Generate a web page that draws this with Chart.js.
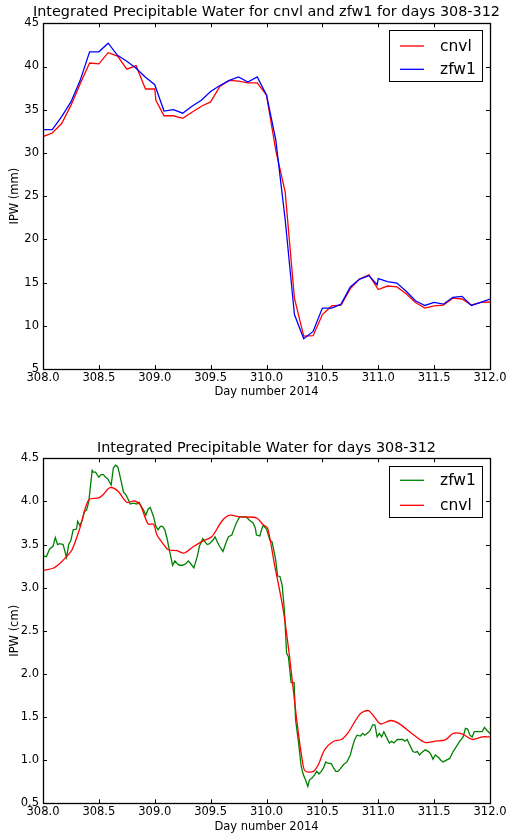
<!DOCTYPE html>
<html>
<head>
<meta charset="utf-8">
<script src="https://cdn.jsdelivr.net/npm/chart.js@4.4.1/dist/chart.umd.min.js"></script>
<style>
body { margin: 0; background: #fff; }
#wrap { position: relative; width: 508px; height: 836px; }
canvas { position: absolute; left: 0; }
</style>
</head>
<body>
<div id="wrap">
<canvas id="chartTop" width="508" height="418" style="top:0"></canvas>
<canvas id="chartBottom" width="508" height="418" style="top:418px"></canvas>
</div>
<script>
// ---- data ----
var dayTicks = [308.0, 308.5, 309.0, 309.5, 310.0, 310.5, 311.0, 311.5, 312.0];
var mmTicks = [5, 10, 15, 20, 25, 30, 35, 40, 45];
var cmTicks = [0.5, 1.0, 1.5, 2.0, 2.5, 3.0, 3.5, 4.0, 4.5];

// top plot, IPW in mm
var cnvlDays = [308.0, 308.083, 308.167, 308.25, 308.333, 308.417, 308.5, 308.583, 308.667, 308.75, 308.833, 308.917, 309.0, 309.01,
    309.083, 309.167, 309.25, 309.333, 309.417, 309.5, 309.583, 309.667, 309.75, 309.833, 309.917, 310.0, 310.083, 310.167,
    310.25, 310.333, 310.417, 310.5, 310.583, 310.667, 310.75, 310.833, 310.917, 311.0, 311.083, 311.167, 311.25, 311.333,
    311.417, 311.5, 311.583, 311.667, 311.75, 311.833, 311.917, 312.0];
var cnvlMm = [31.9, 32.3, 33.4, 35.5, 38.0, 40.4, 40.3, 41.6, 41.2, 39.7, 40.1, 37.4, 37.4, 36.1,
    34.3, 34.3, 34.0, 34.7, 35.4, 35.9, 37.7, 38.4, 38.3, 38.1, 38.1, 36.7, 30.3, 25.5,
    13.2, 8.8, 8.85, 11.3, 12.3, 12.4, 14.3, 15.4, 15.9, 14.2, 14.6, 14.5, 13.7, 12.7,
    12.05, 12.3, 12.4, 13.2, 13.1, 12.4, 12.7, 12.75];

var zfwDays = [308.0, 308.083, 308.167, 308.25, 308.333, 308.417, 308.5, 308.583, 308.667, 308.75, 308.833, 308.917, 309.0,
    309.083, 309.167, 309.25, 309.333, 309.417, 309.5, 309.583, 309.667, 309.75, 309.833, 309.917, 310.0, 310.083, 310.167,
    310.25, 310.333, 310.417, 310.5, 310.583, 310.667, 310.75, 310.833, 310.917, 310.99, 311.0, 311.083, 311.167, 311.25,
    311.333, 311.417, 311.5, 311.583, 311.667, 311.75, 311.833, 311.917, 312.0];
var zfwMm = [32.7, 32.7, 34.2, 35.9, 38.4, 41.7, 41.7, 42.7, 41.3, 40.6, 39.8, 38.75, 37.9,
    34.85, 35.0, 34.6, 35.4, 36.1, 37.1, 37.8, 38.4, 38.8, 38.2, 38.8, 36.7, 31.5, 22.3,
    11.3, 8.5, 9.35, 12.05, 12.05, 12.5, 14.5, 15.4, 15.8, 14.75, 15.45, 15.1, 14.95, 14.0,
    12.9, 12.35, 12.7, 12.5, 13.3, 13.4, 12.35, 12.7, 13.1];

// bottom plot, IPW in cm
var cnvlCmDays = [308.0, 308.09, 308.15, 308.21, 308.26, 308.33, 308.41, 308.5, 308.54, 308.6, 308.67, 308.75, 308.82, 308.87,
    308.94, 308.99, 309.02, 309.08, 309.12, 309.2, 309.26, 309.35, 309.43, 309.51, 309.6, 309.67, 309.76, 309.91, 309.97,
    310.01, 310.07, 310.15, 310.21, 310.27, 310.32, 310.345, 310.42, 310.465, 310.52, 310.6, 310.67, 310.73, 310.84,
    310.91, 310.96, 311.02, 311.11, 311.18, 311.3, 311.42, 311.51, 311.6, 311.67, 311.75, 311.84, 311.93, 312.0];
var cnvlCm = [3.20, 3.225, 3.28, 3.36, 3.44, 3.69, 4.02, 4.04, 4.08, 4.16, 4.12, 3.99, 4.005, 3.96,
    3.74, 3.735, 3.61, 3.50, 3.44, 3.43, 3.40, 3.48, 3.54, 3.59, 3.77, 3.84, 3.82, 3.81, 3.73,
    3.69, 3.28, 2.74, 2.16, 1.47, 1.0, 0.876, 0.87, 0.95, 1.12, 1.22, 1.24, 1.32, 1.54,
    1.575, 1.51, 1.42, 1.46, 1.43, 1.31, 1.205, 1.22, 1.235, 1.31, 1.305, 1.24, 1.27, 1.27];

var zfwCmDays = [308.0, 308.03, 308.06, 308.09, 308.11, 308.13, 308.15, 308.18, 308.2, 308.21, 308.23, 308.25, 308.27, 308.3,
    308.31, 308.33, 308.35, 308.37, 308.39, 308.41, 308.44, 308.45, 308.47, 308.5, 308.52, 308.54, 308.56, 308.58, 308.61,
    308.63, 308.65, 308.67, 308.7, 308.72, 308.74, 308.76, 308.78, 308.81, 308.84, 308.86, 308.88, 308.9, 308.92, 308.94,
    308.96, 308.99, 309.01, 309.03, 309.05, 309.07, 309.09, 309.11, 309.14, 309.16, 309.18, 309.2, 309.22, 309.25, 309.28,
    309.3, 309.32, 309.35, 309.38, 309.4, 309.43, 309.45, 309.47, 309.49, 309.52, 309.54, 309.56, 309.58, 309.61, 309.64,
    309.66, 309.69, 309.7, 309.73, 309.76, 309.79, 309.82, 309.84, 309.86, 309.88, 309.9, 309.91, 309.94, 309.96, 309.97,
    310.0, 310.03, 310.05, 310.08, 310.1, 310.12, 310.14, 310.16, 310.18, 310.196, 310.22, 310.247, 310.26, 310.285, 310.31,
    310.33, 310.35, 310.37, 310.384, 310.405, 310.43, 310.45, 310.47, 310.49, 310.51, 310.53, 310.55, 310.58, 310.6, 310.62,
    310.64, 310.66, 310.69, 310.72, 310.75, 310.77, 310.79, 310.81, 310.84, 310.86, 310.88, 310.91, 310.93, 310.95, 310.97,
    310.99, 311.01, 311.03, 311.05, 311.08, 311.1, 311.12, 311.14, 311.17, 311.2, 311.22, 311.24, 311.26, 311.28, 311.31,
    311.33, 311.35, 311.37, 311.39, 311.42, 311.45, 311.47, 311.49, 311.51, 311.54, 311.56, 311.58, 311.61, 311.64, 311.67,
    311.7, 311.73, 311.76, 311.78, 311.8, 311.82, 311.84, 311.86, 311.9, 311.93, 311.95, 311.97, 312.0];
var zfwCm = [3.37, 3.36, 3.45, 3.48, 3.58, 3.50, 3.51, 3.50, 3.40, 3.35, 3.50, 3.55, 3.67, 3.68,
    3.77, 3.72, 3.78, 3.88, 3.90, 4.0, 4.36, 4.34, 4.34, 4.28, 4.31, 4.31, 4.28, 4.26, 4.19,
    4.39, 4.42, 4.40, 4.23, 4.11, 4.08, 4.03, 3.97, 3.98, 3.97, 3.99, 3.94, 3.90, 3.84, 3.91,
    3.93, 3.82, 3.71, 3.67, 3.71, 3.71, 3.67, 3.57, 3.38, 3.26, 3.31, 3.28, 3.26, 3.26, 3.28,
    3.31, 3.28, 3.23, 3.36, 3.48, 3.57, 3.53, 3.50, 3.51, 3.55, 3.59, 3.53, 3.48, 3.42, 3.53,
    3.59, 3.61, 3.65, 3.75, 3.82, 3.82, 3.82, 3.79, 3.77, 3.75, 3.69, 3.61, 3.60, 3.69, 3.72,
    3.68, 3.55, 3.53, 3.34, 3.135, 3.13, 3.03, 2.74, 2.24, 2.20, 1.90, 1.90, 1.47, 1.22, 0.93,
    0.83, 0.77, 0.695, 0.77, 0.79, 0.83, 0.87, 0.84, 0.87, 0.91, 0.98, 0.965, 0.96, 0.91, 0.87,
    0.87, 0.90, 0.95, 0.98, 1.06, 1.16, 1.24, 1.29, 1.28, 1.31, 1.29, 1.32, 1.35, 1.41, 1.41,
    1.27, 1.31, 1.27, 1.33, 1.25, 1.20, 1.22, 1.20, 1.24, 1.24, 1.24, 1.22, 1.24, 1.18, 1.10,
    1.09, 1.10, 1.06, 1.09, 1.12, 1.10, 1.07, 1.01, 1.06, 1.03, 1.00, 0.98, 1.00, 1.02, 1.10,
    1.16, 1.22, 1.27, 1.37, 1.36, 1.29, 1.27, 1.33, 1.33, 1.33, 1.38, 1.35, 1.31];

var FONT = 'DejaVu Sans';

function pts(xs, ys) {
    return xs.map(function (x, i) { return { x: x, y: ys[i] }; });
}

// box around the plot, ticks pointing inward on all four sides
var framePlugin = {
    id: 'frame',
    afterDatasetsDraw: function (chart) {
        var ctx = chart.ctx, a = chart.chartArea, tl = 4;
        ctx.save();
        ctx.strokeStyle = '#000';
        ctx.lineWidth = 1;
        chart.scales.x.ticks.forEach(function (t) {
            var px = Math.round(chart.scales.x.getPixelForValue(t.value)) + 0.5;
            ctx.beginPath();
            ctx.moveTo(px, a.bottom); ctx.lineTo(px, a.bottom - tl);
            ctx.moveTo(px, a.top); ctx.lineTo(px, a.top + tl);
            ctx.stroke();
        });
        chart.scales.y.ticks.forEach(function (t) {
            var py = Math.round(chart.scales.y.getPixelForValue(t.value)) + 0.5;
            ctx.beginPath();
            ctx.moveTo(a.left, py); ctx.lineTo(a.left + tl, py);
            ctx.moveTo(a.right, py); ctx.lineTo(a.right - tl, py);
            ctx.stroke();
        });
        ctx.lineWidth = 1.3;
        ctx.strokeRect(Math.round(a.left) + 0.5, Math.round(a.top) + 0.5,
            Math.round(a.right - a.left), Math.round(a.bottom - a.top));
        ctx.restore();
    }
};

// title centred over the axes box, like matplotlib does it
var axTitlePlugin = {
    id: 'axTitle',
    afterDraw: function (chart, args, o) {
        var ctx = chart.ctx, a = chart.chartArea;
        ctx.save();
        ctx.fillStyle = '#000';
        ctx.font = o.size + 'px "' + FONT + '"';
        ctx.textAlign = 'center';
        ctx.textBaseline = 'middle';
        ctx.fillText(o.text, (a.left + a.right) / 2, o.y);
        ctx.restore();
    }
};

// legend in a framed box inside the plot (upper right)
var boxLegendPlugin = {
    id: 'boxLegend',
    afterDraw: function (chart, args, o) {
        var ctx = chart.ctx, a = chart.chartArea;
        var x1 = Math.round(a.right - o.right - o.width), y1 = Math.round(a.top + o.top);
        ctx.save();
        ctx.fillStyle = '#fff';
        ctx.fillRect(x1, y1, o.width, o.height);
        ctx.strokeStyle = '#000';
        ctx.lineWidth = 1;
        ctx.strokeRect(x1 + 0.5, y1 + 0.5, o.width, o.height);
        ctx.font = o.fontSize + 'px "' + FONT + '"';
        ctx.textBaseline = 'middle';
        chart.data.datasets.forEach(function (d, i) {
            var y = y1 + o.rowTop + i * o.rowGap;
            ctx.strokeStyle = d.borderColor;
            ctx.lineWidth = d.borderWidth;
            ctx.beginPath();
            ctx.moveTo(x1 + o.lineX, y);
            ctx.lineTo(x1 + o.lineX + o.lineLen, y);
            ctx.stroke();
            ctx.fillStyle = '#000';
            ctx.fillText(d.label, x1 + o.textX, y + 1);
        });
        ctx.restore();
    }
};

function makeChart(id, c) {
    return new Chart(document.getElementById(id), {
        type: 'line',
        data: { datasets: c.datasets },
        options: {
            responsive: false,
            animation: false,
            layout: { padding: { left: 0, right: 18, top: c.areaTop, bottom: 0 } },
            elements: { point: { radius: 0 }, line: { tension: 0 } },
            plugins: {
                legend: { display: false },
                tooltip: { enabled: false },
                title: { display: false },
                axTitle: { text: c.title, y: c.titleY, size: 14.4 },
                boxLegend: c.legend
            },
            scales: {
                x: {
                    type: 'linear', min: 308, max: 312,
                    afterBuildTicks: function (s) { s.ticks = dayTicks.map(function (v) { return { value: v }; }); },
                    afterFit: function (s) { s.height = c.xHeight; s.paddingLeft = 0; s.paddingRight = 0; },
                    grid: { display: false, drawTicks: false },
                    border: { display: false },
                    ticks: {
                        color: '#000', padding: 2, maxRotation: 0, autoSkip: false,
                        font: { family: FONT, size: 11.5 },
                        callback: function (v) { return v.toFixed(1); }
                    },
                    title: {
                        display: true, text: 'Day number 2014', color: '#000',
                        font: { family: FONT, size: 11.5 },
                        padding: { top: 0, bottom: c.xTitleBottom }
                    }
                },
                y: {
                    type: 'linear', min: c.yTicks[0], max: c.yTicks[c.yTicks.length - 1],
                    afterBuildTicks: function (s) { s.ticks = c.yTicks.map(function (v) { return { value: v }; }); },
                    afterFit: function (s) { s.width = 43; s.paddingTop = 0; s.paddingBottom = 0; },
                    grid: { display: false, drawTicks: false },
                    border: { display: false },
                    ticks: {
                        color: '#000', padding: 4,
                        font: { family: FONT, size: 11.5 },
                        callback: c.yFormat
                    },
                    title: {
                        display: true, text: c.yTitle, color: '#000',
                        font: { family: FONT, size: 11.5 },
                        padding: { top: 8, bottom: 0 }
                    }
                }
            }
        },
        plugins: [framePlugin, axTitlePlugin, boxLegendPlugin]
    });
}

makeChart('chartTop', {
    title: 'Integrated Precipitable Water for cnvl and zfw1 for days 308-312',
    titleY: 12,
    areaTop: 23.3,
    xHeight: 49,
    xTitleBottom: 19.4,
    yTicks: mmTicks,
    yTitle: 'IPW (mm)',
    yFormat: function (v) { return String(v); },
    legend: { right: 8, top: 6.7, width: 93, height: 51, lineX: 11, lineLen: 24, textX: 51, rowTop: 16, rowGap: 23.3, fontSize: 15.5 },
    datasets: [
        { label: 'cnvl', data: pts(cnvlDays, cnvlMm), borderColor: '#ff0000', borderWidth: 1.3, order: 1 },
        { label: 'zfw1', data: pts(zfwDays, zfwMm), borderColor: '#0000ff', borderWidth: 1.3, order: 0 }
    ]
});

makeChart('chartBottom', {
    title: 'Integrated Precipitable Water for days 308-312',
    titleY: 30,
    areaTop: 40.3,
    xHeight: 32.7,
    xTitleBottom: 2.4,
    yTicks: cmTicks,
    yTitle: 'IPW (cm)',
    yFormat: function (v) { return v.toFixed(1); },
    legend: { right: 8, top: 7.4, width: 93, height: 51, lineX: 11, lineLen: 24, textX: 51, rowTop: 14.3, rowGap: 25, fontSize: 15.5 },
    datasets: [
        { label: 'zfw1', data: pts(zfwCmDays, zfwCm), borderColor: '#008000', borderWidth: 1.3, order: 1 },
        { label: 'cnvl', data: pts(cnvlCmDays, cnvlCm), borderColor: '#ff0000', borderWidth: 1.3, order: 0, tension: 0.3 }
    ]
});
</script>
</body>
</html>
